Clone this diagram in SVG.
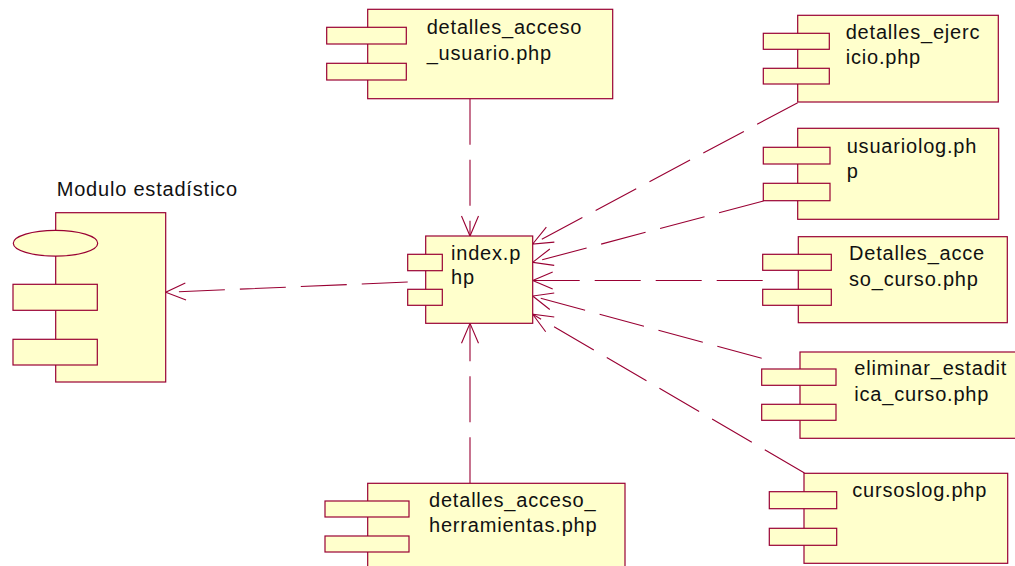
<svg xmlns="http://www.w3.org/2000/svg" width="1015" height="566" viewBox="0 0 1015 566">
<defs>
<style>
.body{fill:#FFFFCC;stroke:#990033;stroke-width:1.2}
.port{fill:#FFFFCC;stroke:#990033;stroke-width:1.2}
.lbl{font-family:"Liberation Sans",Arial,sans-serif;font-size:20px;letter-spacing:0.8px;fill:#111111}
.dep{fill:none;stroke:#990033;stroke-width:1.1;stroke-dasharray:46 15;marker-end:url(#open)}
</style>
<marker id="open" markerUnits="userSpaceOnUse" markerWidth="30" markerHeight="30" viewBox="-25 -15 30 30" refX="0" refY="0" orient="auto" overflow="visible">
<path d="M-20,-8.5 L0,0 L-20,8.5" fill="none" stroke="#990033" stroke-width="1.1" stroke-dasharray="none"/>
</marker>
</defs>
<rect width="1015" height="566" fill="#FFFFFF"/>

<g id="connectors">
<line class="dep" x1="407.7" y1="282" x2="165.7" y2="292.3"/>
<line class="dep" x1="470" y1="98.7" x2="470" y2="236"/>
<line class="dep" x1="470" y1="483.3" x2="470" y2="323.3"/>
<line class="dep" x1="797.7" y1="102.7" x2="532.7" y2="244"/>
<line class="dep" x1="763.5" y1="201" x2="532.7" y2="262.3"/>
<line class="dep" x1="762.7" y1="280.5" x2="532.7" y2="280.5"/>
<line class="dep" x1="761.7" y1="358.3" x2="532.7" y2="296"/>
<line class="dep" x1="804.5" y1="473" x2="532.7" y2="314.3"/>
</g>

<g id="modulo_estadistico">
<text class="lbl" x="56.7" y="196" letter-spacing="0.55">Modulo estadístico</text>
<rect class="body" x="55.7" y="212.7" width="110" height="169.3"/>
<ellipse class="port" cx="55.5" cy="243.2" rx="42.2" ry="12.9"/>
<rect class="port" x="13" y="284.3" width="84.3" height="26"/>
<rect class="port" x="13" y="339.3" width="84.3" height="25.7"/>
</g>

<g id="index_php">
<rect class="body" x="425.7" y="236" width="107" height="87.3"/>
<rect class="port" x="407.7" y="254.3" width="34.6" height="16.4"/>
<rect class="port" x="407.7" y="289.3" width="34.6" height="16"/>
<text class="lbl" x="451" y="260" letter-spacing="0.2">index.p</text>
<text class="lbl" x="451" y="284.3" letter-spacing="0.2">hp</text>
</g>

<g id="detalles_acceso_usuario">
<rect class="body" x="367.7" y="9.3" width="245" height="89.4"/>
<rect class="port" x="326.7" y="27.3" width="79.6" height="16.7"/>
<rect class="port" x="326.7" y="63.3" width="79.6" height="16.7"/>
<text class="lbl" x="426.7" y="34.3">detalles_acceso</text>
<text class="lbl" x="426.7" y="60">_usuario.php</text>
</g>

<g id="detalles_acceso_herramientas">
<rect class="body" x="367.7" y="483.3" width="257.3" height="100"/>
<rect class="port" x="325" y="501" width="84" height="16"/>
<rect class="port" x="325" y="536" width="84" height="16"/>
<text class="lbl" x="429" y="506.7">detalles_acceso_</text>
<text class="lbl" x="429" y="531.7">herramientas.php</text>
</g>

<g id="detalles_ejercicio">
<rect class="body" x="797.7" y="15.3" width="200.6" height="86.7"/>
<rect class="port" x="763.3" y="33.3" width="66" height="16"/>
<rect class="port" x="763.3" y="68.3" width="66" height="15.7"/>
<text class="lbl" x="845.7" y="39.3">detalles_ejerc</text>
<text class="lbl" x="845.7" y="63.8">icio.php</text>
</g>

<g id="usuariolog">
<rect class="body" x="797.7" y="128.3" width="201" height="91"/>
<rect class="port" x="763.3" y="147.3" width="66.7" height="16.7"/>
<rect class="port" x="763.3" y="183.3" width="66.7" height="17.4"/>
<text class="lbl" x="846.7" y="153.3">usuariolog.ph</text>
<text class="lbl" x="846.7" y="178.3">p</text>
</g>

<g id="detalles_acceso_curso">
<rect class="body" x="798.3" y="236.7" width="209" height="86"/>
<rect class="port" x="762.7" y="254.3" width="68.6" height="16"/>
<rect class="port" x="762.7" y="289.3" width="68.6" height="16"/>
<text class="lbl" x="849" y="260">Detalles_acce</text>
<text class="lbl" x="849" y="285.7">so_curso.php</text>
</g>

<g id="eliminar_estaditica_curso">
<rect class="body" x="800" y="352" width="225" height="86.3"/>
<rect class="port" x="761.7" y="369" width="74.3" height="16.3"/>
<rect class="port" x="761.7" y="404.3" width="74.3" height="16"/>
<text class="lbl" x="854.3" y="375">eliminar_estadit</text>
<text class="lbl" x="854.3" y="400.7">ica_curso.php</text>
</g>

<g id="cursoslog">
<rect class="body" x="804" y="473.3" width="203.7" height="90"/>
<rect class="port" x="769.3" y="491.7" width="67.4" height="17"/>
<rect class="port" x="769.3" y="528.3" width="67.4" height="17"/>
<text class="lbl" x="852.3" y="497.3">cursoslog.php</text>
</g>
</svg>
